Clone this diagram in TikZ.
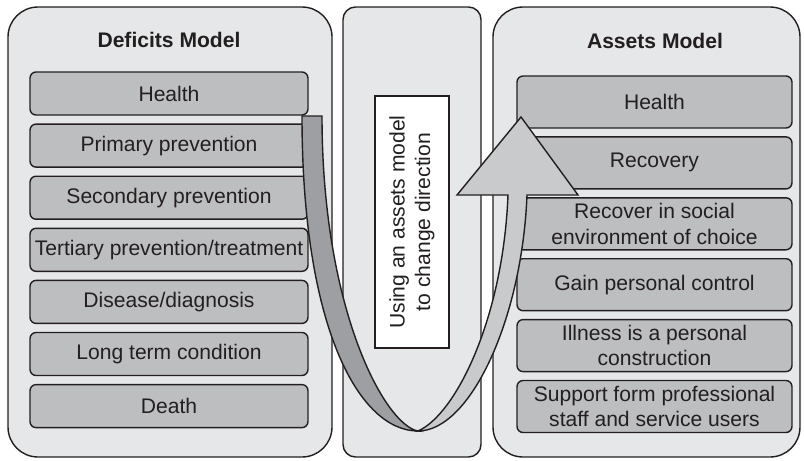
\documentclass[tikz,border=0pt]{standalone}
\usepackage{fontspec}
\setmainfont{Liberation Sans}
\definecolor{panelgray}{HTML}{E6E7E8}
\definecolor{boxgray}{HTML}{BDBEC0}
\definecolor{banddark}{HTML}{9D9FA2}
\definecolor{bandlight}{HTML}{C9CACC}
\definecolor{inkgray}{HTML}{231F20}
\begin{document}
\begin{tikzpicture}[x=0.02cm,y=-0.02cm,line width=0.8pt,draw=inkgray,
  panel/.style={draw=inkgray,fill=panelgray,rounded corners=0.6cm},
  stepL/.style={draw=inkgray,fill=boxgray,rounded corners=0.12cm,minimum width=5.56cm,minimum height=0.86cm,inner sep=1pt,font=\fontsize{12}{14.5}\selectfont,text=inkgray},
  stepR/.style={stepL,minimum width=5.5cm,minimum height=1.04cm,align=center},
  title/.style={font=\fontsize{12}{14.5}\selectfont\bfseries,text=inkgray}]
\useasboundingbox (0,0) rectangle (804,460);
\def\dy{52.1};
\def\dyr{60.9};

% the three columns
\draw[panel] (8,7) rectangle (332,457);
\draw[panel,rounded corners=0.25cm] (343,7) rectangle (481,457);
\draw[panel] (493,7) rectangle (800,457);

\node[title] (defT) at (169,40) {Deficits Model};
\node[title] (assT) at (655,41) {Assets Model};

% deficits side
\node[stepL] (d1) at (169,93.5) {Health};
\node[stepL] (d2) at (169,93.5+\dy) {Primary prevention};
\node[stepL] (d3) at (169,93.5+2*\dy) {Secondary prevention};
\node[stepL] (d4) at (169,93.5+3*\dy) {Tertiary prevention/treatment};
\node[stepL] (d5) at (169,93.5+4*\dy) {Disease/diagnosis};
\node[stepL] (d6) at (169,93.5+5*\dy) {Long term condition};
\node[stepL] (d7) at (169,93.5+6*\dy) {Death};

% assets side
\node[stepR] (a1) at (654.5,102) {Health};
\node[stepR] (a2) at (654.5,102+\dyr) {Recovery};
\node[stepR] (a3) at (654.5,102+2*\dyr) {Recover in social\\environment of choice};
\node[stepR] (a4) at (654.5,102+3*\dyr) {Gain personal control};
\node[stepR] (a5) at (654.5,102+4*\dyr) {Illness is a personal\\construction};
\node[stepR] (a6) at (654.5,102+5*\dyr) {Support form professional\\staff and service users};

% middle label
\node[draw=inkgray,fill=white,rotate=90,minimum width=5.04cm,minimum height=1.48cm,inner sep=1pt,align=center,font=\fontsize{12}{14.5}\selectfont,text=inkgray] (turn) at (412,222) {Using an assets model\\to change direction};

% the u-turn
\coordinate (bot) at (418,431);
\draw[fill=banddark] (302,116) -- (322,116) .. controls (322,310) and (385,425) .. (bot)
  .. controls (360,431) and (302,330) .. (302,116) -- cycle;
\draw[fill=bandlight] (bot) .. controls (470,431) and (522,320) .. (527,195) -- (578,195) -- (521,117)
  -- (457,195) -- (508,195) .. controls (503,320) and (455,415) .. (bot) -- cycle;
\end{tikzpicture}
\end{document}
